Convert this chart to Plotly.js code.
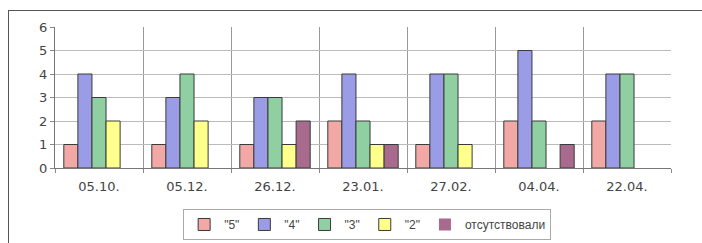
<!DOCTYPE html>
<html>
<head>
<meta charset="utf-8">
<script src="https://cdn.plot.ly/plotly-3.0.1.min.js"></script>
<style>
html,body{margin:0;padding:0;background:#fff;}
#frame{position:absolute;left:8px;top:10px;width:694px;height:233px;border-left:1px solid #555;border-top:1px solid #555;box-sizing:border-box;}
#chart{position:absolute;left:0;top:0;width:702px;height:243px;}
</style>
</head>
<body>
<div id="frame"></div>
<div id="chart"></div>
<script>
const categories = ["05.10.", "05.12.", "26.12.", "23.01.", "27.02.", "04.04.", "22.04."];
const seriesNames = ['"5"', '"4"', '"3"', '"2"', 'отсутствовали'];
const grade5 = [1, 1, 1, 2, 1, 2, 2];
const grade4 = [4, 3, 3, 4, 4, 5, 4];
const grade3 = [3, 4, 3, 2, 4, 2, 4];
const grade2 = [2, 2, 1, 1, 1, 0, 0];
const absent = [0, 0, 2, 1, 0, 1, 0];
const colors = ["#F2A8A4", "#9A9CE6", "#90CFA2", "#FFFF8C", "#A86B8E"];

const values = [grade5, grade4, grade3, grade2, absent];
const traces = values.map((v, i) => ({
  type: "bar",
  name: seriesNames[i],
  x: categories,
  y: v,
  marker: {color: colors[i], line: {color: "#3a3a3a", width: v.map(d => d === 0 ? 0 : 1)}}
}));

const layout = {
  width: 702, height: 243,
  margin: {l: 55, r: 31, t: 27, b: 75, autoexpand: false},
  paper_bgcolor: "rgba(0,0,0,0)",
  plot_bgcolor: "rgba(0,0,0,0)",
  barmode: "group",
  bargap: 0.2,
  bargroupgap: 0,
  font: {family: "DejaVu Sans, Arial, sans-serif", color: "#444", size: 12},
  xaxis: {
    type: "category",
    tickson: "boundaries",
    showgrid: true, gridcolor: "#999", gridwidth: 1,
    ticks: "outside", ticklen: 4, tickcolor: "#888",
    showline: true, linecolor: "#777", linewidth: 1,
    tickfont: {size: 13, color: "#444"},
    ticklabelstandoff: 6,
    automargin: false
  },
  yaxis: {
    range: [0, 6],
    dtick: 1,
    showgrid: true, gridcolor: "#bbb", gridwidth: 1,
    ticks: "outside", ticklen: 4, tickcolor: "#888",
    showline: true, linecolor: "#777", linewidth: 1,
    zeroline: false,
    tickfont: {size: 13, color: "#444"},
    automargin: false
  },
  showlegend: true,
  legend: {
    orientation: "h",
    xref: "container",
    x: 0.523, xanchor: "center",
    yref: "container",
    y: 0.14, yanchor: "top",
    bordercolor: "#aaa", borderwidth: 1,
    font: {family: "Liberation Sans, Arial, sans-serif", size: 12, color: "#444"},
    itemwidth: 30,
    tracegroupgap: 0
  }
};

Plotly.newPlot("chart", traces, layout, {displayModeBar: false, staticPlot: true});
</script>
</body>
</html>
